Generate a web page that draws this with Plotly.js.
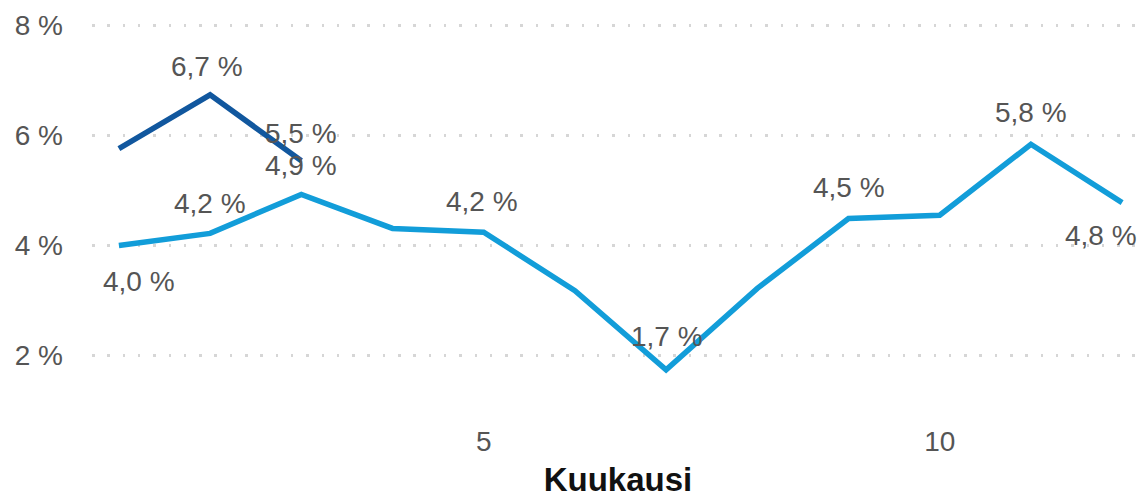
<!DOCTYPE html>
<html>
<head>
<meta charset="utf-8">
<script src="https://cdn.plot.ly/plotly-3.0.1.min.js"></script>
<style>
html,body{margin:0;padding:0;background:#fff;}
#chart{width:1144px;height:498px;}
</style>
</head>
<body>
<div id="chart"></div>
<script>
// Data
var months = [1,2,3,4,5,6,7,8,9,10,11,12];
var seriesLight = [4.0, 4.22, 4.93, 4.31, 4.24, 3.18, 1.74, 3.22, 4.49, 4.55, 5.84, 4.78];
var monthsDark = [1,2,3];
var seriesDark = [5.76, 6.74, 5.54];
var labeledLight = [1,2,3,5,7,9,11,12];
var labeledDark = [2,3];
var yTicks = [2,4,6,8];
var xTicks = [5,10];
var xTitle = 'Kuukausi';

function fmt(v){ return v.toFixed(1).replace('.', ',') + ' %'; }

var lightColor = '#129DD9';
var darkColor = '#11579E';
var fam = 'Liberation Sans, Arial, sans-serif';
var labelFont = {family:fam, size:28, color:'#555555'};

// label placement styles (by month): [xshift, yshift]
var lightPlace = {1:[20,-36],2:[0,30],3:[0,29],5:[-2,31],7:[1,33],9:[0,31],11:[0,32],12:[-21,-33]};
var darkPlace = {2:[-3,28],3:[0,27]};

var annotations = [];
labeledLight.forEach(function(m){
  var i = months.indexOf(m);
  var p = lightPlace[m];
  annotations.push({x:m, y:seriesLight[i], xref:'x', yref:'y', text:fmt(seriesLight[i]),
    showarrow:false, xshift:p[0], yshift:p[1], font:labelFont});
});
labeledDark.forEach(function(m){
  var i = monthsDark.indexOf(m);
  var p = darkPlace[m];
  annotations.push({x:m, y:seriesDark[i], xref:'x', yref:'y', text:fmt(seriesDark[i]),
    showarrow:false, xshift:p[0], yshift:p[1], font:labelFont});
});

var traces = [
  {x:months, y:seriesLight, type:'scatter', mode:'lines',
   line:{color:lightColor, width:5.5, shape:'linear'}, hoverinfo:'skip'},
  {x:monthsDark, y:seriesDark, type:'scatter', mode:'lines',
   line:{color:darkColor, width:5.5}, hoverinfo:'skip'}
];

var layout = {
  width:1144, height:498,
  margin:{l:92, r:0, t:20, b:82},
  paper_bgcolor:'#fff', plot_bgcolor:'#fff',
  showlegend:false,
  xaxis:{range:[0.705,12.24], tickvals:xTicks, ticktext:xTicks.map(String),
    showgrid:false, zeroline:false, showline:false, ticks:'', ticklabelstandoff:6,
    tickfont:{family:fam, size:28, color:'#555555'},
    title:{text:'<b>'+xTitle+'</b>', font:{family:fam, size:33, color:'#111'}, standoff:21}},
  yaxis:{range:[0.9,8.1], tickvals:yTicks, ticktext:yTicks.map(function(v){return v+' %';}),
    showgrid:true, gridcolor:'#d6d6d6', gridwidth:2.5, griddash:'2.5px,12.8px',
    zeroline:false, showline:false, ticks:'', ticklabelstandoff:28,
    tickfont:{family:fam, size:28, color:'#555555'}},
  annotations:annotations
};

Plotly.newPlot('chart', traces, layout, {staticPlot:true, displayModeBar:false});
</script>
</body>
</html>
